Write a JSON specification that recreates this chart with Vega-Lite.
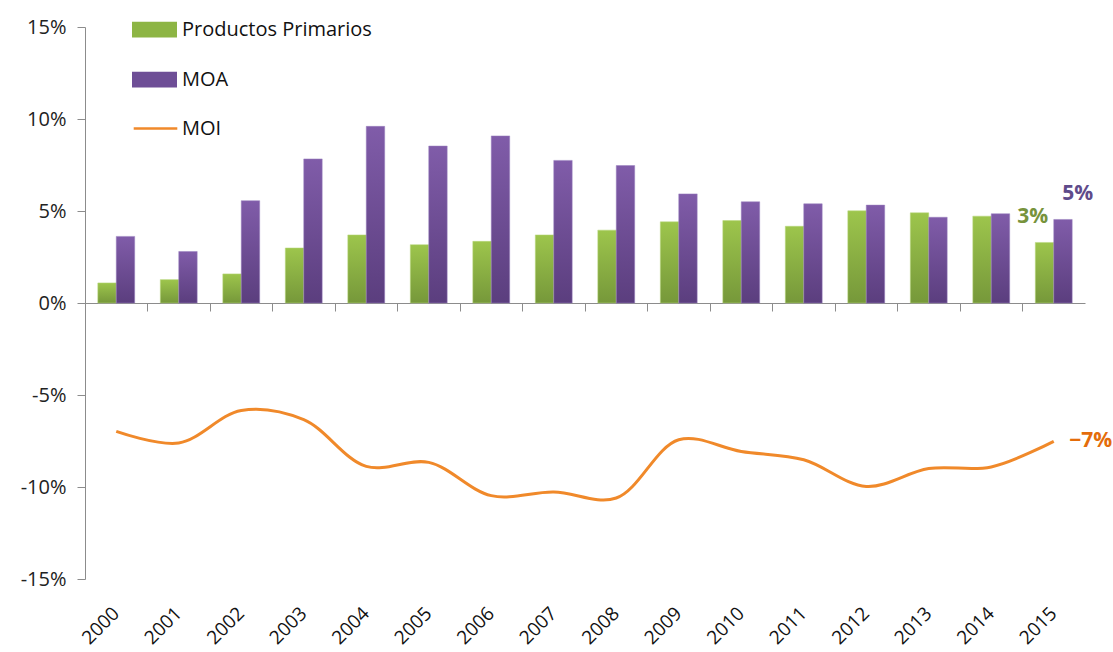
{
  "$schema": "https://vega.github.io/schema/vega-lite/v6.json",
  "width": 1000,
  "height": 552,
  "autosize": {"type": "none"},
  "padding": {"left": 85, "top": 27, "right": 28, "bottom": 73},
  "background": "white",
  "config": {
    "view": {"stroke": null},
    "font": "Open Sans",
    "axis": {"grid": false, "title": null}
  },
  "data": {
    "values": [
      {"year": "2000", "series": "Productos Primarios", "value": 1.09},
      {"year": "2001", "series": "Productos Primarios", "value": 1.27},
      {"year": "2002", "series": "Productos Primarios", "value": 1.58},
      {"year": "2003", "series": "Productos Primarios", "value": 2.99},
      {"year": "2004", "series": "Productos Primarios", "value": 3.70},
      {"year": "2005", "series": "Productos Primarios", "value": 3.17},
      {"year": "2006", "series": "Productos Primarios", "value": 3.35},
      {"year": "2007", "series": "Productos Primarios", "value": 3.70},
      {"year": "2008", "series": "Productos Primarios", "value": 3.96},
      {"year": "2009", "series": "Productos Primarios", "value": 4.41},
      {"year": "2010", "series": "Productos Primarios", "value": 4.48},
      {"year": "2011", "series": "Productos Primarios", "value": 4.17},
      {"year": "2012", "series": "Productos Primarios", "value": 5.01},
      {"year": "2013", "series": "Productos Primarios", "value": 4.90},
      {"year": "2014", "series": "Productos Primarios", "value": 4.72},
      {"year": "2015", "series": "Productos Primarios", "value": 3.29, "label": "3%"},
      {"year": "2000", "series": "MOA", "value": 3.62},
      {"year": "2001", "series": "MOA", "value": 2.80},
      {"year": "2002", "series": "MOA", "value": 5.56},
      {"year": "2003", "series": "MOA", "value": 7.83},
      {"year": "2004", "series": "MOA", "value": 9.60},
      {"year": "2005", "series": "MOA", "value": 8.53},
      {"year": "2006", "series": "MOA", "value": 9.08},
      {"year": "2007", "series": "MOA", "value": 7.75},
      {"year": "2008", "series": "MOA", "value": 7.47},
      {"year": "2009", "series": "MOA", "value": 5.93},
      {"year": "2010", "series": "MOA", "value": 5.50},
      {"year": "2011", "series": "MOA", "value": 5.39},
      {"year": "2012", "series": "MOA", "value": 5.32},
      {"year": "2013", "series": "MOA", "value": 4.66},
      {"year": "2014", "series": "MOA", "value": 4.85},
      {"year": "2015", "series": "MOA", "value": 4.54, "label": "5%"},
      {"year": "2000", "series": "MOI", "value": -6.98},
      {"year": "2001", "series": "MOI", "value": -7.61},
      {"year": "2002", "series": "MOI", "value": -5.84},
      {"year": "2003", "series": "MOI", "value": -6.34},
      {"year": "2004", "series": "MOI", "value": -8.88},
      {"year": "2005", "series": "MOI", "value": -8.66},
      {"year": "2006", "series": "MOI", "value": -10.47},
      {"year": "2007", "series": "MOI", "value": -10.27},
      {"year": "2008", "series": "MOI", "value": -10.60},
      {"year": "2009", "series": "MOI", "value": -7.43},
      {"year": "2010", "series": "MOI", "value": -8.07},
      {"year": "2011", "series": "MOI", "value": -8.52},
      {"year": "2012", "series": "MOI", "value": -9.97},
      {"year": "2013", "series": "MOI", "value": -9.00},
      {"year": "2014", "series": "MOI", "value": -8.91},
      {"year": "2015", "series": "MOI", "value": -7.52, "label": "−7%"}
    ]
  },
  "encoding": {
    "y": {
      "field": "value",
      "type": "quantitative",
      "scale": {"domain": [-15, 15], "nice": false},
      "axis": {
        "values": [-15, -10, -5, 0, 5, 10, 15],
        "labelExpr": "datum.value + '%'",
        "title": null,
        "grid": false,
        "domainColor": "#8c8c8c",
        "tickColor": "#8c8c8c",
        "tickSize": 8,
        "labelFontSize": 20,
        "labelColor": "#222222",
        "labelPadding": 11
      }
    }
  },
  "layer": [
    {
      "transform": [{"filter": "datum.series !== 'MOI'"}],
      "mark": {"type": "bar", "strokeWidth": 1, "strokeOpacity": 0.5},
      "encoding": {
        "x": {
          "field": "year",
          "type": "ordinal",
          "scale": {"paddingInner": 0.41, "paddingOuter": 0.205},
          "axis": {
            "orient": "bottom",
            "domain": false,
            "ticks": false,
            "labelAngle": -45,
            "labelAlign": "right",
            "labelBaseline": "middle",
            "labelFontSize": 19,
            "labelColor": "#111111",
            "labelPadding": 31,
            "title": null
          }
        },
        "xOffset": {
          "field": "series",
          "type": "nominal",
          "sort": ["Productos Primarios", "MOA"],
          "scale": {"domain": ["Productos Primarios", "MOA"], "paddingInner": 0, "paddingOuter": 0}
        },
        "fill": {
          "field": "series",
          "type": "nominal",
          "condition": [
            {"test": "datum.series === 'MOA'", "value": {"gradient": "linear", "x1": 0, "y1": 0, "x2": 0, "y2": 1, "stops": [{"offset": 0, "color": "#805ca9"}, {"offset": 1, "color": "#5b3e7e"}]}},
            {"test": "datum.series === 'Productos Primarios'", "value": {"gradient": "linear", "x1": 0, "y1": 0, "x2": 0, "y2": 1, "stops": [{"offset": 0, "color": "#9dc54c"}, {"offset": 1, "color": "#76983a"}]}}
          ],
          "scale": {
            "domain": ["Productos Primarios", "MOA"],
            "range": ["#8db544", "#6e4e96"]
          },
          "legend": {
            "orient": "none",
            "legendX": 47,
            "legendY": -20,
            "title": null,
            "symbolType": "M-1,-0.35H1V0.35H-1Z",
            "symbolSize": 2025,
            "symbolStrokeWidth": 0,
            "labelFontSize": 20,
            "labelColor": "#111111",
            "labelOffset": 5,
            "labelLimit": 400,
            "rowPadding": 17
          }
        },
        "stroke": {
          "field": "series",
          "type": "nominal",
          "scale": {"domain": ["Productos Primarios", "MOA"], "range": ["#b7d77c", "#9a7fc0"]},
          "legend": null
        }
      }
    },
    {
      "transform": [{"filter": "datum.series === 'MOI'"}],
      "mark": {"type": "line", "interpolate": "catmull-rom", "strokeWidth": 3},
      "encoding": {
        "x": {
          "field": "year",
          "type": "ordinal",
          "bandPosition": 0.5,
          "axis": {
            "orient": "bottom",
            "offset": -276,
            "labels": false,
            "domain": true,
            "ticks": true,
            "bandPosition": -0.347,
            "tickSize": 8,
            "domainColor": "#8c8c8c",
            "tickColor": "#8c8c8c",
            "title": null
          }
        },
        "stroke": {
          "field": "series",
          "type": "nominal",
          "scale": {"domain": ["MOI"], "range": ["#f0892a"]},
          "legend": {
            "orient": "none",
            "legendX": 47,
            "legendY": 78,
            "title": null,
            "symbolType": "stroke",
            "symbolSize": 1900,
            "symbolStrokeWidth": 2.5,
            "labelFontSize": 20,
            "labelColor": "#111111",
            "labelOffset": 3
          }
        }
      }
    },
    {
      "transform": [{"filter": "datum.series === 'Productos Primarios' && datum.label"}],
      "mark": {"type": "text", "dx": -21, "dy": -25, "fontSize": 21, "fontWeight": "bold", "color": "#77933c"},
      "encoding": {
        "x": {"field": "year", "type": "ordinal", "bandPosition": 0.5, "axis": null},
        "text": {"field": "label"}
      }
    },
    {
      "transform": [{"filter": "datum.series === 'MOA' && datum.label"}],
      "mark": {"type": "text", "dx": 24, "dy": -25, "fontSize": 21, "fontWeight": "bold", "color": "#5f4b8b"},
      "encoding": {
        "x": {"field": "year", "type": "ordinal", "bandPosition": 0.5, "axis": null},
        "text": {"field": "label"}
      }
    },
    {
      "transform": [{"filter": "datum.series === 'MOI' && datum.label"}],
      "mark": {"type": "text", "dx": 37, "dy": 0, "fontSize": 21, "fontWeight": "bold", "color": "#e46c0a"},
      "encoding": {
        "x": {"field": "year", "type": "ordinal", "bandPosition": 0.5, "axis": null},
        "text": {"field": "label"}
      }
    }
  ],
  "resolve": {"axis": {"x": "independent"}, "scale": {"stroke": "independent"}}
}
